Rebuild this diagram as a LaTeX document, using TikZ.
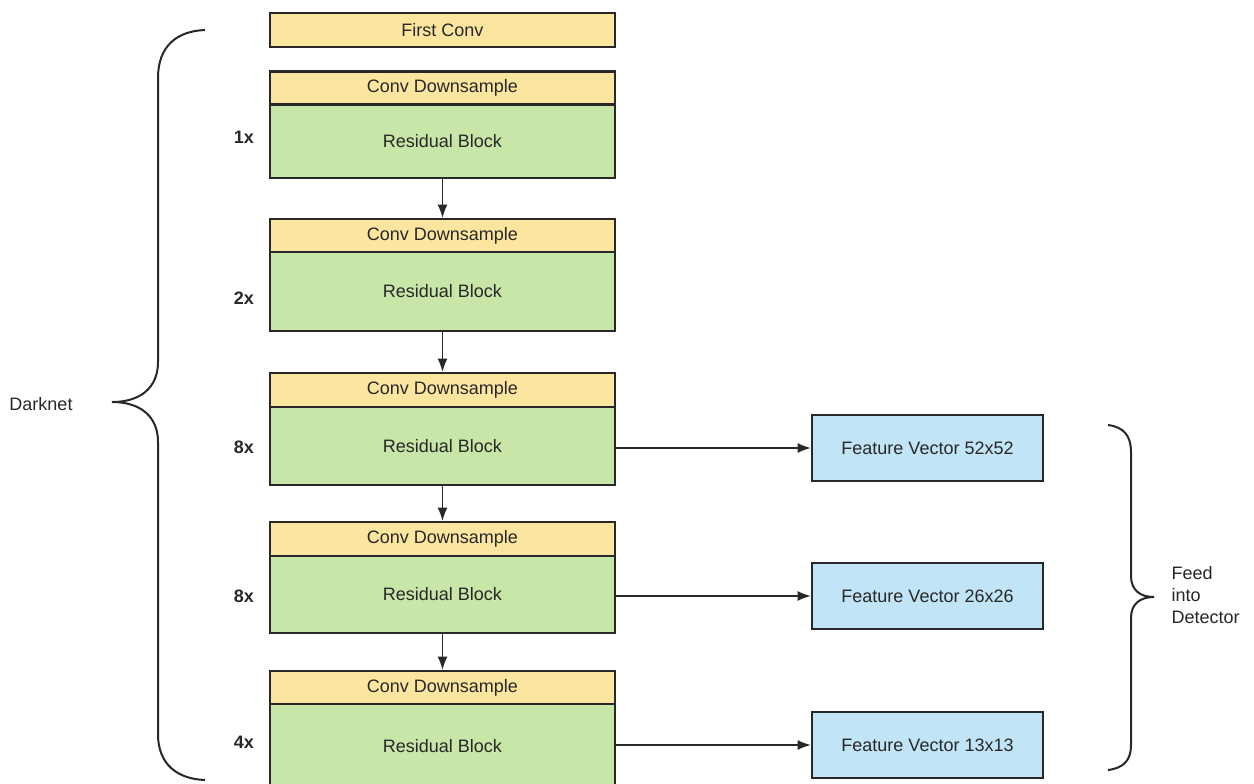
\documentclass[tikz,border=0pt]{standalone}
\usepackage{fontspec}
\setmainfont{Liberation Sans}
\usetikzlibrary{arrows.meta}
\definecolor{cyel}{RGB}{252,229,158}
\definecolor{cgrn}{RGB}{199,230,168}
\definecolor{cblu}{RGB}{193,228,247}
\definecolor{cline}{RGB}{40,40,40}
\definecolor{ctxt}{RGB}{40,40,40}
\tikzset{
  base/.style={draw=cline, line width=1.6pt, inner sep=0pt, text=ctxt, font=\fontsize{13.5pt}{16pt}\selectfont},
  yelbox/.style={base, fill=cyel, minimum width=345*0.75pt, minimum height=33*0.75pt},
  grnbox/.style={base, fill=cgrn, minimum width=345*0.75pt},
  blubox/.style={base, fill=cblu, minimum width=231*0.75pt, minimum height=66*0.75pt},
  arr/.style={draw=cline, line width=1.2pt, -{Latex[length=10pt,width=7.5pt]}},
  mult/.style={text=ctxt, font=\bfseries\fontsize{13.5pt}{16pt}\selectfont},
  lbl/.style={text=ctxt, font=\fontsize{13.5pt}{16pt}\selectfont, align=left},
  brace/.style={draw=cline, line width=1.5pt}
}
\begin{document}
\begin{tikzpicture}[x=0.75pt,y=-0.75pt]
\clip (0,0) rectangle (1254,783);
\fill[white] (0,0) rectangle (1254,783);

% first conv
\node[yelbox, minimum height=34*0.75pt] (fc) at (442.5,30) {First Conv};

% block 1
\node[yelbox] (ds1) at (442.5,88) {Conv Downsample};
\node[grnbox, minimum height=73*0.75pt] (rb1) at (442.5,141.5) {Residual Block};
% block 2
\node[yelbox] (ds2) at (442.5,235.5) {Conv Downsample};
\node[grnbox, minimum height=79*0.75pt] (rb2) at (442.5,291.5) {Residual Block};
% block 3
\node[yelbox, minimum height=34*0.75pt] (ds3) at (442.5,390) {Conv Downsample};
\node[grnbox, minimum height=78*0.75pt] (rb3) at (442.5,446) {Residual Block};
% block 4
\node[yelbox, minimum height=34*0.75pt] (ds4) at (442.5,539) {Conv Downsample};
\node[grnbox, minimum height=77*0.75pt] (rb4) at (442.5,594.5) {Residual Block};
% block 5
\node[yelbox] (ds5) at (442.5,687.5) {Conv Downsample};
\node[grnbox, minimum height=84*0.75pt] (rb5) at (442.5,746) {Residual Block};

% multipliers
\node[mult] (m1) at (244,137) {1x};
\node[mult] (m2) at (244,298) {2x};
\node[mult] (m3) at (244,447) {8x};
\node[mult] (m4) at (244,596) {8x};
\node[mult] (m5) at (244,742) {4x};

% vertical arrows
\draw[arr] (rb1.south) -- (ds2.north);
\draw[arr] (rb2.south) -- (ds3.north);
\draw[arr] (rb3.south) -- (ds4.north);
\draw[arr] (rb4.south) -- (ds5.north);

% feature vectors
\node[blubox] (fv1) at (927.5,448) {Feature Vector 52x52};
\node[blubox] (fv2) at (927.5,596) {Feature Vector 26x26};
\node[blubox] (fv3) at (927.5,745) {Feature Vector 13x13};

\draw[arr] (rb3.east |- fv1.west) -- (fv1.west);
\draw[arr] (rb4.east |- fv2.west) -- (fv2.west);
\draw[arr] (rb5.east |- fv3.west) -- (fv3.west);

% left brace
\draw[brace] (205,30) .. controls (178,31) and (158,45) .. (158,78)
  -- (158,362) .. controls (158,388) and (140,402) .. (112,402)
  .. controls (140,402) and (158,416) .. (158,442)
  -- (158,734) .. controls (158,765) and (178,779) .. (205,780);
\node[lbl] (dk) at (41,404) {Darknet};

% right brace
\draw[brace] (1108,425) .. controls (1124,427) and (1131,436) .. (1131,452)
  -- (1131,576) .. controls (1131,590) and (1140,597) .. (1154,597)
  .. controls (1140,597) and (1131,604) .. (1131,618)
  -- (1131,745) .. controls (1131,760) and (1124,768) .. (1108,770);
\node[lbl, anchor=west, font=\fontsize{13.5pt}{16.5pt}\selectfont] (fd) at (1167,595) {Feed\\into\\Detector};
\end{tikzpicture}
\end{document}
